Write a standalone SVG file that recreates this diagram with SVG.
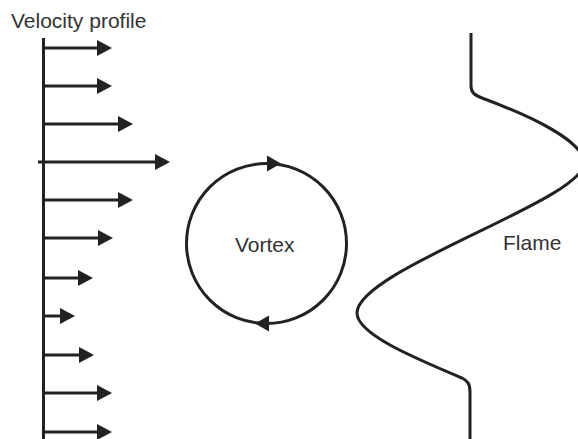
<svg xmlns="http://www.w3.org/2000/svg" width="578" height="439" viewBox="0 0 578 439">
  <style>
    .ln { stroke: #222; stroke-width: 3; fill: none; stroke-linecap: butt; }
    .txt { font-family: "Liberation Sans", Arial, sans-serif; font-size: 21px; fill: #333; }
    .head { fill: #222; }
  </style>
  <defs>
    <marker id="arr" markerUnits="userSpaceOnUse" markerWidth="15" markerHeight="16" refX="0" refY="8" orient="auto" viewBox="0 0 15 16">
      <path d="M0,0 L15,8 L0,16 z" fill="#222"/>
    </marker>
  </defs>

  <g id="velocity-profile">
    <text class="txt" x="11" y="28">Velocity profile</text>
    <line class="ln" x1="43.5" y1="38" x2="43.5" y2="439" stroke-width="3.5"/>
  </g>

  <g id="connectors">
    <line class="ln" x1="43" y1="48" x2="97" y2="48" marker-end="url(#arr)"/>
    <line class="ln" x1="43" y1="86" x2="97" y2="86" marker-end="url(#arr)"/>
    <line class="ln" x1="43" y1="124" x2="118" y2="124" marker-end="url(#arr)"/>
    <line class="ln" x1="38" y1="162" x2="155" y2="162" marker-end="url(#arr)"/>
    <line class="ln" x1="43" y1="200" x2="118" y2="200" marker-end="url(#arr)"/>
    <line class="ln" x1="43" y1="238" x2="98" y2="238" marker-end="url(#arr)"/>
    <line class="ln" x1="43" y1="278" x2="78" y2="278" marker-end="url(#arr)"/>
    <line class="ln" x1="43" y1="316" x2="60" y2="316" marker-end="url(#arr)"/>
    <line class="ln" x1="43" y1="355" x2="79" y2="355" marker-end="url(#arr)"/>
    <line class="ln" x1="43" y1="393" x2="97" y2="393" marker-end="url(#arr)"/>
    <line class="ln" x1="43" y1="432" x2="97" y2="432" marker-end="url(#arr)"/>
  </g>

  <g id="vortex">
    <circle class="ln" cx="266.5" cy="243.5" r="80"/>
    <path class="head" d="M267,155.5 L281,163.5 L267,171.5 z"/>
    <path class="head" d="M269,315.5 L255,323.5 L269,331.5 z"/>
    <text class="txt" x="235" y="252">Vortex</text>
  </g>

  <g id="flame">
    <path class="ln" d="M471,33 L471,86 C471,92 474,95 482,98 C525,114 584,140 584,163 C584,200 357,270 357,313 C357,335 420,360 462,378 C468,381 470,384 470,392 L470,439"/>
    <text class="txt" x="503" y="250">Flame</text>
  </g>
</svg>
